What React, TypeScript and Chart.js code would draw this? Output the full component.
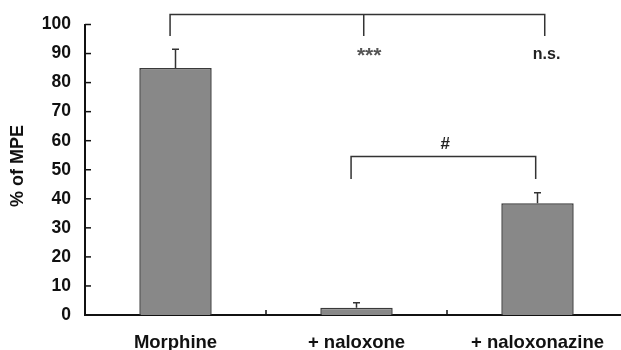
import React, { useEffect, useRef } from "react";
import { Chart, registerables } from "chart.js";

Chart.register(...registerables);

const categories = ["Morphine", "+ naloxone", "+ naloxonazine"];
const means = [85, 2.5, 38.5];
const sems = [6.5, 1.7, 3.6];
const yTicks = [0, 10, 20, 30, 40, 50, 60, 70, 80, 90, 100];
// brackets: x in category-index units, y in value units
const bracketFrom = [-0.03, 0.97];
const bracketTo = [2.04, 1.99];
const bracketMid = [1.04, null as number | null];
const bracketLevel = [103.4, 54.6];
const bracketDrop = [96, 46.8];
const markTexts = ["***", "n.s.", "#"];
const markX = [1.07, 2.05, 1.49];
const markY = [87.2, 89.8, 58.6];
const markBaselines = ["alphabetic", "middle", "middle"];
const markFonts = [
  "bold 21px 'Liberation Sans', Arial, sans-serif",
  "bold 16px 'Liberation Sans', Arial, sans-serif",
  "bold 17px 'Liberation Sans', Arial, sans-serif",
];
const markColors = ["#555", "#222", "#222"];

const FONT = "'Liberation Sans', Arial, sans-serif";

export default function App() {
  const ref = useRef<HTMLCanvasElement>(null);
  useEffect(() => {
    if (!ref.current) return;
    const overlay = {
      id: "overlay",
      afterDatasetsDraw(chart: any) {
        const ctx = chart.ctx;
        const ys = chart.scales.y;
        const area = chart.chartArea;
        const cw = (area.right - area.left) / categories.length;
        const px = (i: number) => area.left + (i + 0.5) * cw;
        ctx.save();
        // error bars
        const meta = chart.getDatasetMeta(0);
        ctx.strokeStyle = "#333";
        ctx.lineWidth = 1.5;
        meta.data.forEach((el: any, i: number) => {
          const x = el.x;
          const y0 = ys.getPixelForValue(means[i]);
          const y1 = ys.getPixelForValue(means[i] + sems[i]);
          ctx.beginPath();
          ctx.moveTo(x, y0);
          ctx.lineTo(x, y1);
          ctx.moveTo(x - 3.5, y1);
          ctx.lineTo(x + 3.5, y1);
          ctx.stroke();
        });
        // inner ticks y
        ctx.strokeStyle = "#111";
        ctx.lineWidth = 1.5;
        yTicks.forEach((t) => {
          const y = ys.getPixelForValue(t);
          ctx.beginPath();
          ctx.moveTo(area.left, y);
          ctx.lineTo(area.left + 6, y);
          ctx.stroke();
        });
        // inner ticks x between categories
        for (let i = 1; i < categories.length; i++) {
          const x = area.left + i * cw;
          ctx.beginPath();
          ctx.moveTo(x, area.bottom);
          ctx.lineTo(x, area.bottom - 5);
          ctx.stroke();
        }
        // brackets
        ctx.strokeStyle = "#333";
        ctx.lineWidth = 1.5;
        for (let b = 0; b < bracketFrom.length; b++) {
          const yl = ys.getPixelForValue(bracketLevel[b]);
          const yd = ys.getPixelForValue(bracketDrop[b]);
          const x0 = px(bracketFrom[b]);
          const x1 = px(bracketTo[b]);
          ctx.beginPath();
          ctx.moveTo(x0, yd);
          ctx.lineTo(x0, yl);
          ctx.lineTo(x1, yl);
          ctx.lineTo(x1, yd);
          const m = bracketMid[b];
          if (m !== null) {
            ctx.moveTo(px(m), yl);
            ctx.lineTo(px(m), yd);
          }
          ctx.stroke();
        }
        // marks
        ctx.textAlign = "center";
        markTexts.forEach((t, i) => {
          ctx.font = markFonts[i];
          ctx.fillStyle = markColors[i];
          ctx.textBaseline = markBaselines[i] as CanvasTextBaseline;
          ctx.fillText(t, px(markX[i]), ys.getPixelForValue(markY[i]));
        });
        // y title
        ctx.textBaseline = "middle";
        ctx.translate(18, 166);
        ctx.rotate(-Math.PI / 2);
        ctx.font = `bold 18px ${FONT}`;
        ctx.fillStyle = "#111";
        ctx.fillText("% of MPE", 0, 0);
        ctx.restore();
      },
    };
    const chart = new Chart(ref.current, {
      type: "bar",
      data: {
        labels: categories,
        datasets: [
          {
            data: means,
            backgroundColor: "#888888",
            borderColor: "#3a3a3a",
            borderWidth: 1.5,
            categoryPercentage: 1,
            barPercentage: 0.4,
          },
        ],
      },
      options: {
        animation: false,
        responsive: false,
        maintainAspectRatio: false,
        layout: { padding: { top: 20, left: 0, right: 0, bottom: 0 } },
        plugins: { legend: { display: false }, tooltip: { enabled: false } },
        scales: {
          x: {
            grid: { display: false, drawTicks: false },
            border: { display: true, color: "#111", width: 2 },
            ticks: {
              color: "#111",
              font: { family: FONT, size: 18.5, weight: "bold" },
              padding: 17,
              maxRotation: 0,
              autoSkip: false,
            },
            afterFit(scale: any) {
              scale.height = 35;
            },
          },
          y: {
            min: 0,
            max: 100,
            grid: { display: false, drawTicks: false },
            border: { display: true, color: "#111", width: 2 },
            afterBuildTicks(scale: any) {
              scale.ticks = yTicks.map((v) => ({ value: v }));
            },
            ticks: {
              color: "#111",
              font: { family: FONT, size: 17.5, weight: "bold" },
              padding: 14,
            },
            afterFit(scale: any) {
              scale.width = 85;
            },
          },
        },
      },
      plugins: [overlay],
    });
    return () => chart.destroy();
  }, []);
  return (
    <div style={{ position: "fixed", left: 0, top: 0, width: 621, height: 350, overflow: "hidden", background: "#fff" }}>
      <canvas ref={ref} width={628} height={350} style={{ width: 628, height: 350, display: "block" }} />
    </div>
  );
}
